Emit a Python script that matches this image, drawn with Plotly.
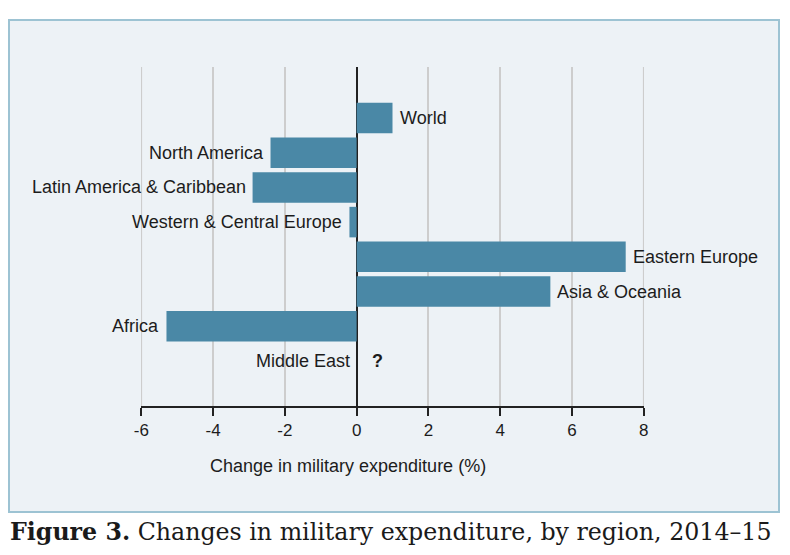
import plotly.graph_objects as go

# data (Middle East has no figure, shown as "?")
regions = ["World", "North America", "Latin America & Caribbean",
           "Western & Central Europe", "Eastern Europe", "Asia & Oceania",
           "Africa", "Middle East"]
change_pct = [1.0, -2.4, -2.9, -0.2, 7.5, 5.4, -5.3, None]
x_ticks = [-6, -4, -2, 0, 2, 4, 6, 8]

# page puts the figure at (8, 8), so work in figure pixels = screen - 8
OFF = 8
W, H = 790 - OFF, 555 - OFF
L, R, T, B = 141 - OFF, 644 - OFF, 67 - OFF, 406 - OFF
BAR = "#4a88a6"
TXT = "#1c1c1c"
GRID = "#cdcdcd"
FONT = "Liberation Sans, Arial, sans-serif"


def px(x):
    return (x - OFF - L) / (R - L)


def py(y):
    return (B - (y - OFF)) / (B - T)


fig = go.Figure()
fig.add_trace(go.Bar(
    x=change_pct,
    y=regions,
    orientation="h",
    marker=dict(color=BAR, line=dict(width=0)),
    hoverinfo="skip",
))

# light blue panel behind the chart (added first so it stays underneath)
fig.add_shape(type="rect", xref="paper", yref="paper",
              x0=px(9), x1=px(779), y0=py(512), y1=py(20),
              fillcolor="#edf2f6", line=dict(color="#9dc3d3", width=2),
              layer="below")

# plotly drops grid lines on the range edges, draw those two by hand
for t in (x_ticks[0], x_ticks[-1]):
    fig.add_shape(type="line", xref="x", yref="paper", x0=t, x1=t, y0=0, y1=1,
                  line=dict(color=GRID, width=1.5), layer="below")

# labels next to the bar ends
lab = dict(size=18, color=TXT, family=FONT)
for name, v in zip(regions, change_pct):
    if v is None:
        fig.add_annotation(x=0, y=name, text=name, showarrow=False,
                           xanchor="right", xshift=-5, font=lab)
        fig.add_annotation(x=0, y=name, text="<b>?</b>", showarrow=False,
                           xanchor="left", xshift=13, font=lab)
    elif v < 0:
        fig.add_annotation(x=v, y=name, text=name, showarrow=False,
                           xanchor="right", xshift=-5, font=lab)
    else:
        fig.add_annotation(x=v, y=name, text=name, showarrow=False,
                           xanchor="left", xshift=5, font=lab)

# axis title (sits left of the axis centre in the original)
fig.add_annotation(x=-0.25, xref="x", y=py(466), yref="paper",
                   text="Change in military expenditure (%)", showarrow=False,
                   xanchor="center", yanchor="middle", font=lab)

# caption under the box
fig.add_annotation(x=px(8), xref="paper", y=py(532), yref="paper",
                   text="<b>Figure 3.</b> Changes in military expenditure, by region, 2014–15",
                   showarrow=False, xanchor="left", yanchor="middle",
                   font=dict(size=23.7, color="#1a1a1a",
                             family="DejaVu Serif, Liberation Serif, serif"))

fig.update_layout(
    width=W, height=H,
    margin=dict(l=L, r=W - R, t=T, b=H - B),
    paper_bgcolor="white",
    plot_bgcolor="rgba(0,0,0,0)",
    showlegend=False,
    bargap=0.12,
)
fig.update_xaxes(
    range=[-6.01, 8.01],
    tickvals=x_ticks,
    ticktext=[str(t) for t in x_ticks],
    showgrid=True, gridcolor=GRID, gridwidth=1.5,
    zeroline=True, zerolinecolor="#222222", zerolinewidth=1.5,
    showline=True, linecolor="#222222", linewidth=1.5,
    ticks="outside", ticklen=8, tickwidth=1.5, tickcolor="#222222",
    tickfont=dict(size=17, color=TXT, family=FONT),
    fixedrange=True,
)
fig.update_yaxes(
    categoryorder="array", categoryarray=regions,
    range=[8.3, -1.47],
    showticklabels=False, showgrid=False, zeroline=False, showline=False,
    ticks="",
    fixedrange=True,
)

fig.write_html("out.html")
